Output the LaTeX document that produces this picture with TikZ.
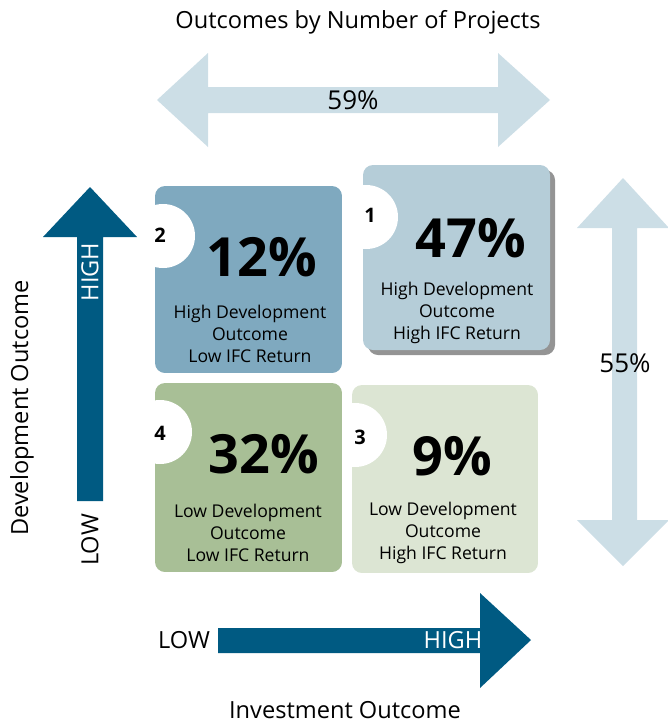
\documentclass[tikz,border=0pt]{standalone}
\usepackage{fontspec}
\setmainfont{Open Sans}
\usetikzlibrary{shadows}
\definecolor{axisblue}{RGB}{0,90,130}
\definecolor{shareblue}{RGB}{204,222,230}
\definecolor{quadone}{RGB}{181,205,216}
\definecolor{quadtwo}{RGB}{127,169,191}
\definecolor{quadthree}{RGB}{220,229,211}
\definecolor{quadfour}{RGB}{168,191,150}
\def\corner{5pt}
\def\badge{16pt}

\tikzset{
  label/.style={font=\fontsize{11.8}{13}\selectfont, inner sep=0pt},
  share/.style={font=\fontsize{13}{15}\selectfont, inner sep=0pt},
  pct/.style={font=\fontsize{27}{27}\selectfont\bfseries, inner sep=0pt},
  desc/.style={font=\fontsize{8.8}{11}\selectfont, align=center, inner sep=0pt},
  num/.style={font=\fontsize{10}{10}\selectfont\bfseries, inner sep=0pt},
}

\begin{document}
\begin{tikzpicture}[x=0.5pt, y=-0.5pt]
    \useasboundingbox (0,0) rectangle (668,723);
    % Share arrows.
    \fill[shareblue] (157,100) -- (208,53) -- (208,87) -- (498,87) -- (498,53) -- (550,100)
        -- (498,147) -- (498,113) -- (208,113) -- (208,147) -- cycle;
    \fill[shareblue] (623,178) -- (669,228) -- (637,228) -- (637,520) -- (669,520) -- (623,566)
        -- (577,520) -- (612,520) -- (612,228) -- (577,228) -- cycle;
    % Axis arrows.
    \fill[axisblue] (90,187) -- (137,237) -- (103,237) -- (103,501) -- (77,501) -- (77,237)
        -- (43,237) -- cycle;
    \fill[axisblue] (218,628) -- (480,628) -- (480,593) -- (531,640) -- (480,688) -- (480,653)
        -- (218,653) -- cycle;
    % Quadrant 1.
    \fill[quadone, rounded corners=\corner, drop shadow={shadow xshift=2.5pt, shadow yshift=-2.5pt, fill=black!70, opacity=0.6}]
        (363,165) rectangle (550,350);
    \begin{scope}
        \clip[rounded corners=\corner] (363,165) rectangle (550,350);
        \fill[white] (366,217) circle (\badge);
    \end{scope}
    % Quadrant 2.
    \begin{scope}
        \clip[rounded corners=\corner] (155,186) rectangle (342,373);
        \fill[quadtwo] (155,186) rectangle (342,373);
        \fill[white] (163,236) circle (\badge);
    \end{scope}
    % Quadrant 3.
    \begin{scope}
        \clip[rounded corners=\corner] (352,385) rectangle (538,573);
        \fill[quadthree] (352,385) rectangle (538,573);
        \fill[white] (355,435) circle (\badge);
    \end{scope}
    % Quadrant 4.
    \begin{scope}
        \clip[rounded corners=\corner] (155,383) rectangle (342,572);
        \fill[quadfour] (155,383) rectangle (342,572);
        \fill[white] (160,432) circle (\badge);
    \end{scope}
    % Quadrant texts.
    \node[num] (n1) at (370,215) {1};
    \node[pct] (p1) at (471,238) {47\%};
    \node[desc] (d1) at (457,313) {High Development\\Outcome\\High IFC Return};
    \node[num] (n2) at (160,235) {2};
    \node[pct] (p2) at (262,257) {12\%};
    \node[desc] (d2) at (250,334) {High Development\\Outcome\\Low IFC Return};
    \node[num] (n3) at (360,437) {3};
    \node[pct] (p3) at (452,456) {9\%};
    \node[desc] (d3) at (443,533) {Low Development\\Outcome\\High IFC Return};
    \node[num] (n4) at (160,433) {4};
    \node[pct] (p4) at (264,454) {32\%};
    \node[desc] (d4) at (248,533) {Low Development\\Outcome\\Low IFC Return};
    % Labels.
    \node[label] (title) at (358,22) {Outcomes by Number of Projects};
    \node[share] (top share) at (353,100) {59\%};
    \node[share] (side share) at (625,363) {55\%};
    \node[label, rotate=90] (dev) at (22,408) {Development Outcome};
    \node[label, rotate=90, text=white] (dev high) at (90,272) {HIGH};
    \node[label, rotate=90] (dev low) at (90,540) {LOW};
    \node[label] (inv low) at (184,640) {LOW};
    \node[label, text=white] (inv high) at (453,640) {HIGH};
    \node[label] (inv) at (345,710) {Investment Outcome};
\end{tikzpicture}
\end{document}
